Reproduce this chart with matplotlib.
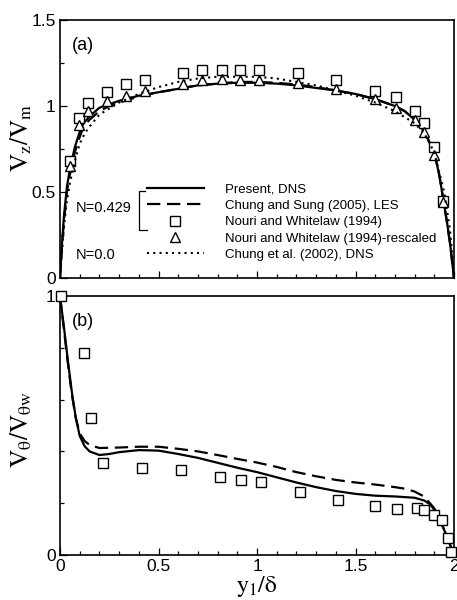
import matplotlib
matplotlib.use('Agg')
import matplotlib.pyplot as plt
from matplotlib.ticker import MultipleLocator, FuncFormatter
from matplotlib.lines import Line2D

plt.rcParams['font.family'] = ['Liberation Sans', 'DejaVu Sans']
plt.rcParams['mathtext.fontset'] = 'stix'

# ---------------- panel (a): axial velocity ----------------
x_dns_a = [0.0, 0.01, 0.02, 0.035, 0.05, 0.075, 0.1, 0.12, 0.15, 0.2, 0.25, 0.3, 0.4, 0.5, 0.6,
           0.7, 0.8, 0.9, 1.0, 1.1, 1.2, 1.3, 1.4, 1.5, 1.6, 1.7, 1.75, 1.8, 1.85, 1.9, 1.925,
           1.945, 1.965, 1.98, 1.99, 2.0]
v_dns_a = [0.0, 0.2, 0.36, 0.53, 0.63, 0.76, 0.85, 0.9, 0.94, 0.99, 1.01, 1.03, 1.06, 1.08, 1.1,
           1.12, 1.13, 1.135, 1.135, 1.13, 1.12, 1.105, 1.09, 1.07, 1.04, 1.0, 0.97, 0.92, 0.85,
           0.73, 0.6, 0.46, 0.32, 0.2, 0.1, 0.0]

x_les_a = [0.0, 0.01, 0.02, 0.035, 0.05, 0.075, 0.1, 0.12, 0.15, 0.2, 0.25, 0.3, 0.4, 0.5, 0.6,
           0.7, 0.8, 0.9, 1.0, 1.1, 1.2, 1.3, 1.4, 1.5, 1.6, 1.7, 1.75, 1.8, 1.85, 1.9, 1.925,
           1.945, 1.965, 1.98, 1.99, 2.0]
v_les_a = [0.0, 0.18, 0.33, 0.5, 0.6, 0.73, 0.82, 0.88, 0.92, 0.97, 1.0, 1.02, 1.055, 1.08, 1.1,
           1.12, 1.13, 1.14, 1.14, 1.135, 1.125, 1.11, 1.09, 1.07, 1.04, 1.0, 0.97, 0.92, 0.85,
           0.73, 0.6, 0.46, 0.32, 0.2, 0.1, 0.0]

x_nw = [0.05, 0.096, 0.143, 0.24, 0.335, 0.43, 0.625, 0.72, 0.82, 0.915, 1.01, 1.21, 1.40,
        1.60, 1.705, 1.80, 1.85, 1.90, 1.945]
v_nw = [0.68, 0.93, 1.02, 1.08, 1.13, 1.15, 1.19, 1.21, 1.21, 1.21, 1.21, 1.19, 1.15,
        1.09, 1.05, 0.97, 0.90, 0.76, 0.45]
v_nw_rescaled = [0.65, 0.89, 0.97, 1.03, 1.06, 1.09, 1.13, 1.15, 1.155, 1.15, 1.15, 1.135, 1.10,
                 1.04, 0.99, 0.92, 0.85, 0.715, 0.44]

x_c02 = [0.0, 0.01, 0.02, 0.035, 0.05, 0.075, 0.1, 0.125, 0.15, 0.2, 0.3, 0.4, 0.5, 0.6, 0.7,
         0.8, 0.9, 1.0, 1.1, 1.2, 1.3, 1.4, 1.5, 1.6, 1.7, 1.8, 1.85, 1.9, 1.95, 1.98, 2.0]
v_c02 = [0.0, 0.15, 0.3, 0.45, 0.55, 0.68, 0.78, 0.84, 0.88, 0.95, 1.02, 1.07, 1.11, 1.14, 1.16,
         1.17, 1.17, 1.17, 1.16, 1.14, 1.12, 1.09, 1.06, 1.02, 0.97, 0.9, 0.84, 0.73, 0.5,
         0.28, 0.0]

# ---------------- panel (b): swirl velocity ----------------
x_dns_b = [0.0, 0.02, 0.04, 0.06, 0.08, 0.1, 0.125, 0.15, 0.2, 0.25, 0.3, 0.4, 0.5, 0.6, 0.7,
           0.8, 0.9, 1.0, 1.1, 1.2, 1.3, 1.4, 1.5, 1.6, 1.7, 1.8, 1.85, 1.88, 1.9, 1.93, 1.96,
           1.98, 2.0]
v_dns_b = [1.0, 0.88, 0.75, 0.63, 0.53, 0.46, 0.42, 0.40, 0.386, 0.39, 0.397, 0.405, 0.403,
           0.39, 0.375, 0.356, 0.337, 0.32, 0.3, 0.28, 0.262, 0.247, 0.236, 0.229, 0.226,
           0.221, 0.21, 0.195, 0.175, 0.13, 0.08, 0.04, 0.0]

x_les_b = [0.0, 0.02, 0.04, 0.06, 0.08, 0.1, 0.125, 0.15, 0.2, 0.3, 0.4, 0.5, 0.6, 0.7, 0.8,
           0.9, 1.0, 1.1, 1.2, 1.3, 1.4, 1.5, 1.6, 1.7, 1.75, 1.8, 1.85, 1.9, 1.93, 1.96,
           1.98, 2.0]
v_les_b = [1.0, 0.87, 0.74, 0.62, 0.53, 0.47, 0.44, 0.425, 0.413, 0.415, 0.418, 0.418, 0.41,
           0.4, 0.386, 0.371, 0.357, 0.34, 0.32, 0.304, 0.29, 0.28, 0.272, 0.262, 0.256,
           0.245, 0.225, 0.18, 0.135, 0.08, 0.04, 0.0]

x_nw_b = [0.005, 0.122, 0.157, 0.22, 0.417, 0.614, 0.81, 0.92, 1.02, 1.22, 1.41, 1.60, 1.71,
          1.81, 1.85, 1.90, 1.94, 1.97, 1.985]
v_nw_b = [1.0, 0.78, 0.53, 0.355, 0.336, 0.328, 0.30, 0.29, 0.28, 0.243, 0.212, 0.19, 0.178,
          0.18, 0.174, 0.155, 0.135, 0.066, 0.012]

legend_labels = ['Present, DNS', 'Chung and Sung (2005), LES', 'Nouri and Whitelaw (1994)',
                 'Nouri and Whitelaw (1994)-rescaled', 'Chung et al. (2002), DNS']

W, H = 457, 600
fig = plt.figure(figsize=(W / 100, H / 100), dpi=100)
ax1 = fig.add_axes([60 / W, 1 - 278 / H, 394 / W, 258 / H])
ax2 = fig.add_axes([60 / W, 1 - 555 / H, 394 / W, 259 / H])

lw = 1.6
dash = (0, (6, 3))
dot = (0, (1, 2))
msq = dict(marker='s', ms=7, mfc='white', mec='black', mew=1.0, ls='none')
mtr = dict(marker='^', ms=7.5, mfc='white', mec='black', mew=1.0, ls='none')

l1, = ax1.plot(x_dns_a, v_dns_a, color='black', lw=lw, ls='-')
l2, = ax1.plot(x_les_a, v_les_a, color='black', lw=lw, ls=dash)
l3, = ax1.plot(x_nw, v_nw, **msq)
l4, = ax1.plot(x_nw, v_nw_rescaled, **mtr)
l5, = ax1.plot(x_c02, v_c02, color='black', lw=1.5, ls=dot)

ax2.plot(x_dns_b, v_dns_b, color='black', lw=lw, ls='-')
ax2.plot(x_les_b, v_les_b, color='black', lw=lw, ls=dash)
ax2.plot(x_nw_b, v_nw_b, clip_on=False, zorder=5, **msq)

fmt = FuncFormatter(lambda v, p: f'{v:g}')
for ax in (ax1, ax2):
    ax.set_xlim(0, 2)
    ax.xaxis.set_major_locator(MultipleLocator(0.5))
    ax.xaxis.set_minor_locator(MultipleLocator(0.1))
    ax.xaxis.set_major_formatter(fmt)
    ax.yaxis.set_major_formatter(fmt)
    ax.tick_params(which='both', direction='in', top=False, right=False, width=0.9,
                   labelsize=12.5, pad=3)
    ax.tick_params(which='major', length=5)
    ax.tick_params(which='minor', length=3)
    for s in ax.spines.values():
        s.set_linewidth(1.2)

ax1.set_ylim(0, 1.5)
ax1.yaxis.set_major_locator(MultipleLocator(0.5))
ax1.yaxis.set_minor_locator(MultipleLocator(0.25))
ax1.tick_params(labelbottom=False)

ax2.set_ylim(0, 1)
ax2.yaxis.set_major_locator(MultipleLocator(1))
ax2.yaxis.set_minor_locator(MultipleLocator(0.2))

ax1.set_ylabel(r'$\mathrm{V_{z}/V_{m}}$', fontsize=18)
ax1.yaxis.set_label_coords(-26 / 394, (278 - 138) / 258)
ax2.set_ylabel(r'$\mathrm{V_{\theta}/V_{\theta w}}$', fontsize=18)
ax2.yaxis.set_label_coords(-26 / 394, (555 - 430) / 259)
ax2.set_xlabel(r'$\mathrm{y_{1}/\delta}$', fontsize=17, labelpad=0)

ax1.text((72 - 60) / 394, (278 - 45) / 258, '(a)', transform=ax1.transAxes,
         fontsize=13, va='center', ha='left')
ax2.text((72 - 60) / 394, (555 - 322) / 259, '(b)', transform=ax2.transAxes,
         fontsize=13, va='center', ha='left')

leg = ax1.legend([l1, l2, l3, l4, l5], legend_labels, loc='upper left',
                 bbox_to_anchor=((147 - 60) / 394, (278 - 183) / 258), frameon=False,
                 fontsize=9.5, handlelength=4.3, handletextpad=1.6, labelspacing=0.32,
                 borderpad=0, borderaxespad=0, numpoints=1)

# bracket grouping the N=0.429 entries
bx0 = (139 - 60) / 394
ax1.plot([(145 - 60) / 394, bx0, bx0, (147 - 60) / 394],
         [(278 - 191) / 258, (278 - 191) / 258, (278 - 230) / 258, (278 - 230) / 258],
         transform=ax1.transAxes, color='black', lw=0.9, clip_on=False)
ax1.text((76 - 60) / 394, (278 - 208) / 258, 'N=0.429', transform=ax1.transAxes,
         fontsize=10.5, va='center', ha='left')
ax1.text((76 - 60) / 394, (278 - 255) / 258, 'N=0.0', transform=ax1.transAxes,
         fontsize=10.5, va='center', ha='left')

fig.savefig('out.png', dpi=100, facecolor='white')
